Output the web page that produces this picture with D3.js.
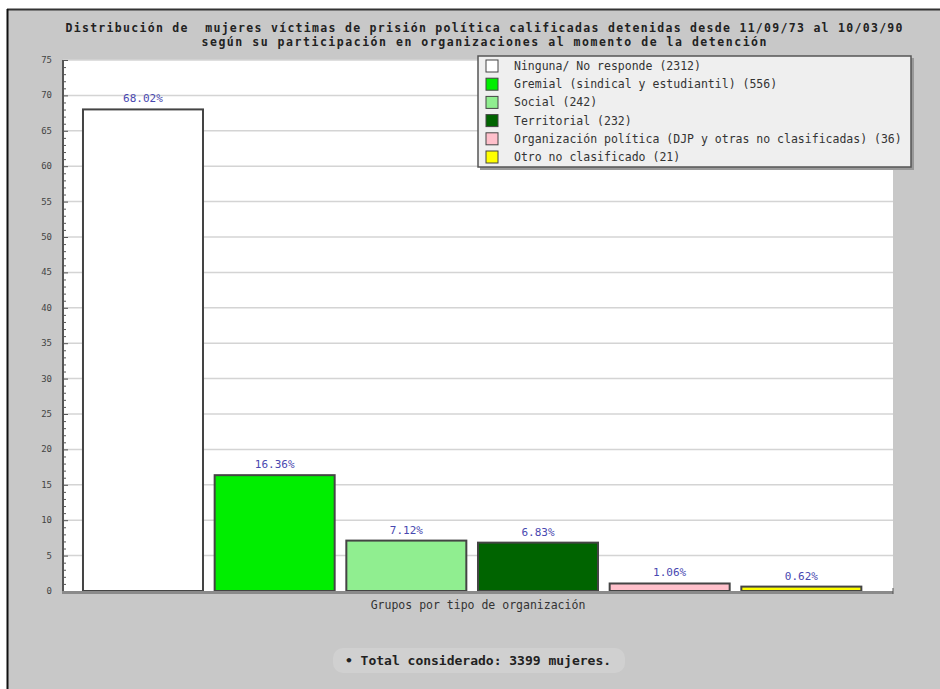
<!DOCTYPE html>
<html>
<head>
<meta charset="utf-8">
<script src="https://cdn.jsdelivr.net/npm/d3@7"></script>
<style>
  body { margin: 0; background: #fff; }
  text { font-family: "DejaVu Sans Mono", "Liberation Mono", monospace; white-space: pre; }
</style>
</head>
<body>
<div id="container"></div>
<script>
// data
var category = ["Grupos por tipo de organización"];
var series = ["Ninguna/ No responde", "Gremial (sindical y estudiantil)", "Social",
              "Territorial", "Organización política (DJP y otras no clasificadas)", "Otro no clasificado"];
var counts = [2312, 556, 242, 232, 36, 21];
var percents = [68.02, 16.36, 7.12, 6.83, 1.06, 0.62];
var colors = ["#ffffff", "#00ee00", "#90ee90", "#006400", "#ffc0cb", "#ffff00"];
var yTicks = d3.range(0, 76, 5);
var titleLines = ["Distribución de  mujeres víctimas de prisión política calificadas detenidas desde 11/09/73 al 10/03/90",
                  "según su participación en organizaciones al momento de la detención"];
var total = 3399;

var width = 940, height = 689;
var plot = { left: 63, right: 893, top: 60, bottom: 591 };

var svg = d3.select("#container").append("svg")
    .attr("width", width)
    .attr("height", height);

// gray frame
svg.append("rect")
    .attr("x", 7).attr("y", 9)
    .attr("width", width - 7).attr("height", height - 9)
    .style("fill", "#c8c8c8");
svg.append("line")
    .attr("x1", 7).attr("x2", width).attr("y1", 9.5).attr("y2", 9.5)
    .style("stroke", "#333").style("stroke-width", 2);
svg.append("line")
    .attr("x1", 7.5).attr("x2", 7.5).attr("y1", 9).attr("y2", height)
    .style("stroke", "#111").style("stroke-width", 2);

// title (squeezed glyphs, wide spacing like the original bitmap font)
var titleWidths = [837, 565];
svg.selectAll(".title")
    .data(titleLines)
    .enter().append("text")
    .attr("class", "title")
    .attr("x", 484)
    .attr("y", function(_, i) { return 32 + i * 14 })
    .attr("text-anchor", "middle")
    .attr("textLength", function(_, i) { return titleWidths[i] })
    .attr("lengthAdjust", "spacing")
    .style("font-size", "11.5px")
    .style("font-weight", "bold")
    .style("fill", "#222")
    .text(function(d) { return d });

// scales
var y = d3.scaleLinear()
    .domain([0, 75])
    .range([plot.bottom, plot.top]);

var x0 = d3.scaleBand()
    .domain(category)
    .range([plot.left, plot.right])
    .paddingOuter(0.0253);

var x1 = d3.scaleBand()
    .domain(series)
    .range([0, x0.bandwidth()])
    .paddingInner(0.0886)
    .paddingOuter(0.0443)
    .align(0);

// plot background
svg.append("rect")
    .attr("x", plot.left).attr("y", plot.top)
    .attr("width", plot.right - plot.left).attr("height", plot.bottom - plot.top)
    .style("fill", "#fff");

// grid
svg.selectAll(".grid")
    .data(yTicks.filter(function(t) { return t > 0 }))
    .enter().append("line")
    .attr("class", "grid")
    .attr("x1", plot.left).attr("x2", plot.right)
    .attr("y1", function(d) { return y(d) }).attr("y2", function(d) { return y(d) })
    .style("stroke", "#d4d4d4").style("stroke-width", 1.5);

// y axis: minor ticks every 1, major every 5
var yAxis = svg.append("g")
    .attr("transform", "translate(" + plot.left + ",0)");
yAxis.selectAll(".minor")
    .data(d3.range(0, 76, 1))
    .enter().append("line")
    .attr("x1", 0).attr("x2", function(d) { return d % 5 == 0 ? 5 : 3 })
    .attr("y1", function(d) { return y(d) + 0.5 }).attr("y2", function(d) { return y(d) + 0.5 })
    .style("stroke", "#555").style("stroke-width", 1);
yAxis.append("line")
    .attr("x1", 0).attr("x2", 0).attr("y1", plot.top).attr("y2", plot.bottom)
    .style("stroke", "#555").style("stroke-width", 2);
yAxis.selectAll(".ylab")
    .data(yTicks)
    .enter().append("text")
    .attr("class", "ylab")
    .attr("x", -11)
    .attr("y", function(d) { return y(d) + 3 })
    .attr("text-anchor", "end")
    .style("font-size", "9px")
    .style("fill", "#444")
    .text(function(d) { return d });

// bars
var groups = svg.selectAll(".group")
    .data(category)
    .enter().append("g")
    .attr("class", "group")
    .attr("transform", function(d) { return "translate(" + x0(d) + ",0)" });

var bars = series.map(function(s, i) { return { name: s, value: percents[i], color: colors[i] } });

groups.selectAll(".bar")
    .data(bars)
    .enter().append("rect")
    .attr("class", "bar")
    .attr("x", function(d) { return x1(d.name) })
    .attr("y", function(d) { return y(d.value) })
    .attr("width", x1.bandwidth())
    .attr("height", function(d) { return y(0) - y(d.value) })
    .style("fill", function(d) { return d.color })
    .style("stroke", "#444")
    .style("stroke-width", 2);

groups.selectAll(".val")
    .data(bars)
    .enter().append("text")
    .attr("class", "val")
    .attr("x", function(d) { return x1(d.name) + x1.bandwidth() / 2 })
    .attr("y", function(d) { return y(d.value) - 7 })
    .attr("text-anchor", "middle")
    .style("font-size", "11px")
    .style("fill", "#4848b0")
    .text(function(d) { return d.value.toFixed(2) + "%" });

// x axis band
svg.append("rect")
    .attr("x", plot.left - 1).attr("y", plot.bottom)
    .attr("width", plot.right - plot.left + 1).attr("height", 3)
    .style("fill", "#8a8a8a");
svg.append("line")
    .attr("x1", plot.right).attr("x2", plot.right).attr("y1", plot.bottom - 3).attr("y2", plot.bottom + 3)
    .style("stroke", "#555");

svg.append("text")
    .attr("x", x0(category[0]) + x0.bandwidth() / 2)
    .attr("y", 609)
    .attr("text-anchor", "middle")
    .style("font-size", "11.5px")
    .style("fill", "#333")
    .text(category[0]);

// legend
var legend = svg.append("g")
    .attr("transform", "translate(478,56)");
legend.append("rect")
    .attr("x", 2).attr("y", 2).attr("width", 434).attr("height", 112)
    .style("fill", "#999");
legend.append("rect")
    .attr("width", 433).attr("height", 111)
    .style("fill", "#efefef")
    .style("stroke", "#555").style("stroke-width", 1.5);

var items = legend.selectAll(".item")
    .data(series)
    .enter().append("g")
    .attr("class", "item")
    .attr("transform", function(_, i) { return "translate(8," + (4 + i * 18.2) + ")" });
items.append("rect")
    .attr("width", 12).attr("height", 12)
    .style("fill", function(_, i) { return colors[i] })
    .style("stroke", "#444").style("stroke-width", 1);
items.append("text")
    .attr("x", 28).attr("y", 10)
    .style("font-size", "11.5px")
    .style("fill", "#333")
    .text(function(d, i) { return d + " (" + counts[i] + ")" });

// footnote
svg.append("rect")
    .attr("x", 333).attr("y", 648).attr("width", 292).attr("height", 25).attr("rx", 10)
    .style("fill", "#d0d0d0");
svg.append("text")
    .attr("x", 478)
    .attr("y", 665)
    .attr("text-anchor", "middle")
    .style("font-size", "13px")
    .style("font-weight", "bold")
    .style("fill", "#222")
    .text("• Total considerado: " + total + " mujeres.");
</script>
</body>
</html>
